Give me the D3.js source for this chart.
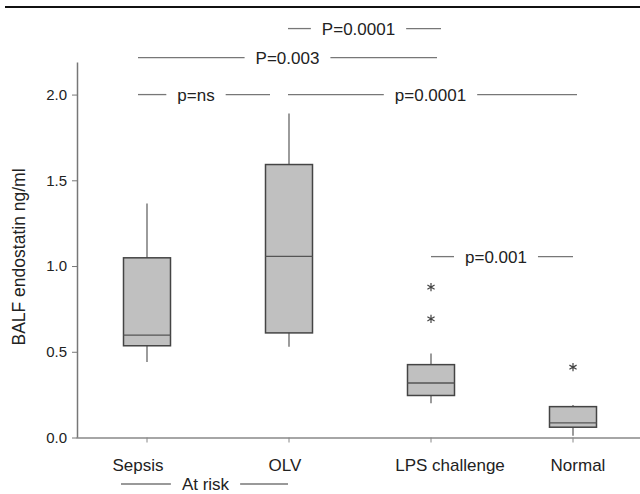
<!DOCTYPE html>
<html>
<head>
<meta charset="utf-8">
<script src="https://cdn.jsdelivr.net/npm/d3@7"></script>
<style>
  body { margin: 0; background: #fff; }
  svg { display: block; font-family: "Liberation Sans", Arial, sans-serif; }
</style>
</head>
<body>
<div id="chart"></div>
<script>
// data
const groups = ["Sepsis", "OLV", "LPS challenge", "Normal"];
const whiskerLow = [0.44, 0.53, 0.20, 0.01];
const q1 = [0.535, 0.61, 0.245, 0.06];
const median = [0.597, 1.056, 0.318, 0.085];
const q3 = [1.048, 1.592, 0.425, 0.18];
const whiskerHigh = [1.365, 1.89, 0.49, 0.19];
const outliers = [[], [], [0.877, 0.692], [0.41]];
const yTicks = [0, 0.5, 1.0, 1.5, 2.0];

// comparisons: label, from group, to group, height in data units
const compLabels = ["P=0.0001", "P=0.003", "p=ns", "p=0.0001", "p=0.001"];
const compFrom = ["OLV", "Sepsis", "Sepsis", "OLV", "LPS challenge"];
const compTo = ["LPS challenge", "LPS challenge", "OLV", "Normal", "Normal"];
const compY = [2.385, 2.216, 2.0, 2.0, 1.055];

// layout (pixel tweaks, not data)
const compPad = [[-1, 10], [-9, 6], [-9, -19], [-1, 4], [0, 0]];
const compShift = [-6, 0, -8, -2, -6];
const labelShift = [-9, -4, 19, 5];

const W = 640, H = 494;
const svg = d3.select('#chart').append('svg')
  .attr('width', W)
  .attr('height', H);

const x = d3.scaleBand()
  .domain(groups)
  .range([76, 644]);
const y = d3.scaleLinear()
  .domain([0, 2.19])
  .range([437.5, 62]);

const cx = g => x(g) + x.bandwidth() / 2;
const boxW = 47;

// top rule
svg.append('line')
  .attr('x1', 5).attr('x2', W)
  .attr('y1', 7).attr('y2', 7)
  .style('stroke', '#111')
  .style('stroke-width', 2);

// y axis
const yAxis = svg.append('g')
  .attr('transform', 'translate(77,0)')
  .call(d3.axisLeft(y).tickValues(yTicks).tickFormat(d3.format('.1f')).tickSize(5).tickSizeOuter(0));
yAxis.select('.domain').style('stroke', '#777').style('stroke-width', 1.5);
yAxis.selectAll('.tick line').style('stroke', '#777').style('stroke-width', 1);
yAxis.selectAll('.tick text')
  .attr('x', -10)
  .style('font-size', '15px')
  .style('fill', '#222');

// x axis
const xAxis = svg.append('g')
  .attr('transform', `translate(0,${y(0)})`)
  .call(d3.axisBottom(x).tickSize(5).tickSizeOuter(0).tickFormat(''));
xAxis.select('.domain').style('stroke', '#888').style('stroke-width', 1.5);
xAxis.selectAll('.tick line').style('stroke', '#888').style('stroke-width', 1);

// category labels
svg.selectAll('.cat')
  .data(groups)
  .enter()
  .append('text')
  .attr('class', 'cat')
  .attr('x', (d, i) => cx(d) + labelShift[i])
  .attr('y', 470.5)
  .attr('text-anchor', 'middle')
  .style('font-size', '17px')
  .style('fill', '#222')
  .text(d => d);

// y label
svg.append('text')
  .attr('transform', 'translate(25,257) rotate(-90)')
  .attr('text-anchor', 'middle')
  .style('font-size', '17.5px')
  .style('fill', '#222')
  .text('BALF endostatin ng/ml');

// boxes
const boxes = svg.selectAll('.box')
  .data(groups)
  .enter()
  .append('g')
  .attr('class', 'box');

boxes.append('line')
  .attr('x1', d => cx(d)).attr('x2', d => cx(d))
  .attr('y1', (d, i) => y(whiskerHigh[i]))
  .attr('y2', (d, i) => y(whiskerLow[i]))
  .style('stroke', '#666')
  .style('stroke-width', 1.3);

boxes.append('rect')
  .attr('x', d => cx(d) - boxW / 2)
  .attr('width', boxW)
  .attr('y', (d, i) => y(q3[i]))
  .attr('height', (d, i) => y(q1[i]) - y(q3[i]))
  .style('fill', '#c0c0c0')
  .style('stroke', '#444')
  .style('stroke-width', 1.5);

boxes.append('line')
  .attr('x1', d => cx(d) - boxW / 2).attr('x2', d => cx(d) + boxW / 2)
  .attr('y1', (d, i) => y(median[i]))
  .attr('y2', (d, i) => y(median[i]))
  .style('stroke', '#555')
  .style('stroke-width', 1.3);

// outliers
const star = d3.symbol().type(d3.symbolAsterisk).size(48);
groups.forEach((g, i) => {
  svg.selectAll(null)
    .data(outliers[i])
    .enter()
    .append('path')
    .attr('d', star)
    .attr('transform', v => `translate(${cx(g)},${y(v)})`)
    .style('fill', 'none')
    .style('stroke', '#444')
    .style('stroke-width', 1.2);
});

// comparison brackets with text in a gap
function gapLine(x1, x2, yy, label, shift) {
  const mid = (x1 + x2) / 2 + shift;
  const t = svg.append('text')
    .attr('x', mid)
    .attr('y', yy + 6)
    .attr('text-anchor', 'middle')
    .style('font-size', '17px')
    .style('fill', '#222')
    .text(label);
  const tw = t.node().getComputedTextLength();
  const gap = 11;
  [[x1, mid - tw / 2 - gap], [mid + tw / 2 + gap, x2]].forEach(seg => {
    svg.append('line')
      .attr('x1', seg[0]).attr('x2', seg[1])
      .attr('y1', yy).attr('y2', yy)
      .style('stroke', '#777')
      .style('stroke-width', 1.3);
  });
}

compLabels.forEach((lab, i) => {
  gapLine(cx(compFrom[i]) + compPad[i][0], cx(compTo[i]) + compPad[i][1], y(compY[i]), lab, compShift[i]);
});

// group label under the x axis
gapLine(cx('Sepsis') - 26, cx('OLV') - 1, 484, 'At risk', 1);
</script>
</body>
</html>
